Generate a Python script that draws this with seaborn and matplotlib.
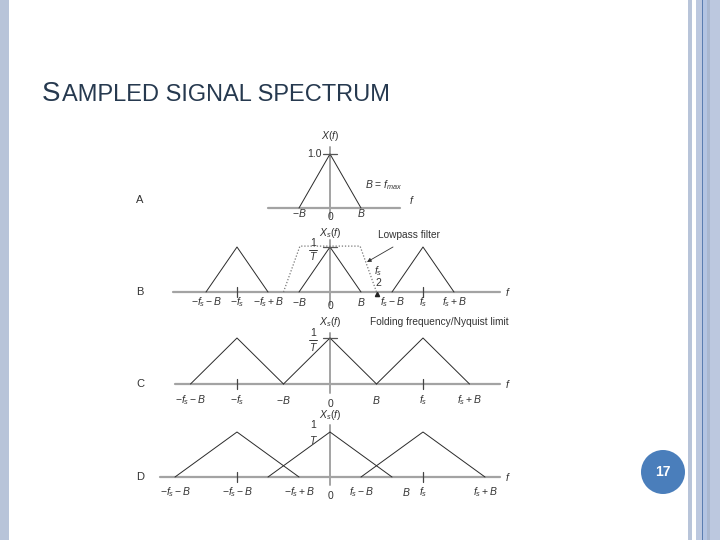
import numpy as np
import pandas as pd
import matplotlib
matplotlib.use("Agg")
import matplotlib.pyplot as plt
import seaborn as sns
from matplotlib.patches import Rectangle, Ellipse

# ---------------- data ----------------
FS = 3.0                                   # sampling frequency (units)
centers = [-FS, 0.0, FS]                   # spectral replicas at -fs, 0, fs
panel_names = ["A", "B", "C", "D"]
bandwidths = [1.0, 1.0, 1.5, 2.0]          # B for each panel
filter_x = [-1.5, -0.97, 0.97, 1.5]        # lowpass filter (panel B)
filter_y = [0.0, 1.02, 1.02, 0.0]

ticks_A = [-1.0, 0.0, 1.0]
labels_A = ["$-B$", "0", "$B$"]
ticks_B = [-4, -3, -2, -1, 0, 1, 2, 3, 4]
labels_B = ["$-f_s - B$", "$-f_s$", "$-f_s + B$", "$-B$", "0", "$B$",
            "$f_s - B$", "$f_s$", "$f_s + B$"]
ticks_C = [-4.5, -3, -1.5, 0, 1.5, 3, 4.5]
labels_C = ["$-f_s - B$", "$-f_s$", "$-B$", "0", "$B$", "$f_s$", "$f_s + B$"]
ticks_D = [-5, -3, -1, 0, 1, 2.45, 3, 5]
labels_D = ["$-f_s - B$", "$-f_s - B$", "$-f_s + B$", "0", "$f_s - B$",
            "$B$", "$f_s$", "$f_s + B$"]

# ---------------- style ----------------
sns.set_theme(style="white")
plt.rcParams["font.family"] = ["Liberation Sans", "DejaVu Sans"]
plt.rcParams["mathtext.fontset"] = "custom"
plt.rcParams["mathtext.rm"] = "Liberation Sans"
plt.rcParams["mathtext.it"] = "Liberation Sans:italic"
plt.rcParams["mathtext.bf"] = "Liberation Sans:bold"

W, H = 720, 540
fig = plt.figure(figsize=(7.2, 5.4), dpi=100)
fig.patch.set_facecolor("white")

TXT = "#333333"
AXC = "#a3a3a3"
LINE = "#2a2a2a"

# slide borders
def frect(x0, x1, color):
    fig.add_artist(Rectangle((x0 / W, 0), (x1 - x0) / W, 1, transform=fig.transFigure,
                             facecolor=color, edgecolor="none", zorder=0))

frect(0, 9, "#b8c4d9")
frect(688, 692, "#b8c4d9")
frect(696, 720, "#bcc8df")
frect(703, 707, "#b3c4e2")
frect(707, 710, "#a9b7cf")
frect(702, 703.3, "#5a7db0")

# title (small caps)
fig.text(42 / W, 1 - 101 / H, "S", fontsize=20, color="#26394f",
         va="baseline", ha="left")
fig.text(61.5 / W, 1 - 101 / H, "AMPLED SIGNAL SPECTRUM", fontsize=17,
         color="#26394f", va="baseline", ha="left")

# page number
fig.add_artist(Ellipse((663 / W, 1 - 472 / H), 44 / W, 44 / H, transform=fig.transFigure,
                       facecolor="#4a7ebb", edgecolor="none"))
fig.text(663 / W, 1 - 472 / H, "17", color="white", fontsize=10, fontweight="bold",
         ha="center", va="center")

# ---------------- panels ----------------
PX = 31.0          # pixels per frequency unit
X0 = 330.0         # pixel x of f = 0
baselines = [208, 292, 384, 477]
scales = [54, 45, 46, 45]
axis_x = [(-2.0, 2.26), (-5.06, 5.48), (-5.0, 5.48), (-5.48, 5.48)]
axis_y = [(-0.17, 1.13), (-0.29, 1.16), (-0.2, 1.1), (-0.18, 1.15)]
label_off = [5, 10, 16, 15]
all_ticks = [ticks_A, ticks_B, ticks_C, ticks_D]
all_labels = [labels_A, labels_B, labels_C, labels_D]
ylabels = ["$X(f)$", "$X_s(f)$", "$X_s(f)$", "$X_s(f)$"]
FSZ = 7.5

LO, HI = 1.2, 1.8
axes = []
for i in range(4):
    yb, s = baselines[i], scales[i]
    ax = fig.add_axes([130 / W, 1 - (yb + LO * s) / H, 400 / W, (LO + HI) * s / H])
    ax.set_xlim(-200 / PX, 200 / PX)
    ax.set_ylim(-LO, HI)
    ax.axis("off")
    axes.append(ax)

    B = bandwidths[i]
    cs = [0.0] if i == 0 else centers
    rows = []
    for k, c in enumerate(cs):
        for xv, yv in zip([c - B, c, c + B], [0.0, 1.0, 0.0]):
            rows.append({"f": xv, "X": yv, "rep": k})
    df = pd.DataFrame(rows)
    sns.lineplot(data=df, x="f", y="X", units="rep", estimator=None, sort=False,
                 color=LINE, lw=0.7, ax=ax, legend=False)
    for l in ax.lines:
        l.set_clip_on(False)

    # axes lines
    ax.plot(axis_x[i], [0, 0], color=AXC, lw=1.6, zorder=1, clip_on=False)
    ax.plot([0, 0], axis_y[i], color=AXC, lw=1.4, zorder=1, clip_on=False)

    # ticks at +-fs
    if i > 0:
        for c in [-FS, FS]:
            ax.plot([c, c], [-5 / s, 5 / s], color="#444444", lw=0.9, clip_on=False)
    # peak tick
    if i < 3:
        ax.plot([-7 / PX, 7 / PX], [1, 1], color="#555555", lw=0.9, clip_on=False)

    # tick labels
    for t, lab in zip(all_ticks[i], all_labels[i]):
        off = label_off[i] + (4 if lab == "0" else 0)
        ax.text(t, -off / s, lab, ha="center", va="center", fontsize=FSZ, color=TXT)

    # ylabel
    ylab_px = [136, 233, 322, 415][i]
    ax.text(0, (yb - ylab_px) / s, ylabels[i], ha="center", va="center",
            fontsize=FSZ, color=TXT)

    # f axis label, panel letter
    fx = 412 if i == 0 else 508
    ax.text((fx - X0) / PX, (8 / s) if i == 0 else 0.0, "$f$", ha="center",
            va="center", fontsize=FSZ, color=TXT)
    ax.text((140 - X0) / PX, (8 / s) if i == 0 else 0.0, panel_names[i], ha="center",
            va="center", fontsize=8, color=TXT)

# panel A extras
axA = axes[0]
axA.text(-8 / PX, 1.0, "1.0", ha="right", va="center", fontsize=FSZ, color=TXT)
axA.text((365 - X0) / PX, (208 - 185) / 54, "$B$ = $f_{max}$", ha="left",
         va="center", fontsize=FSZ, color=TXT)

# 1/T labels
for i, (y1, y2, bar) in zip([1, 2, 3], [(243, 256, True), (333, 347, True), (425, 440, False)]):
    ax = axes[i]
    yb, s = baselines[i], scales[i]
    xx = (313 - X0) / PX
    ax.text(xx, (yb - y1) / s, "1", ha="center", va="center", fontsize=FSZ, color=TXT)
    ax.text(xx, (yb - y2) / s, "$T$", ha="center", va="center", fontsize=FSZ, color=TXT)
    if bar:
        ym = (yb - (y1 + y2) / 2) / s
        ax.plot([xx - 4 / PX, xx + 4 / PX], [ym, ym], color=TXT, lw=0.7, clip_on=False)

# panel B extras
axB = axes[1]
sns.lineplot(x=filter_x, y=filter_y, sort=False, estimator=None, ax=axB,
             color="#777777", lw=0.9, linestyle=(0, (1, 1.5)))
axB.text((378 - X0) / PX, (292 - 235) / 45, "Lowpass filter", ha="left",
         va="center", fontsize=7.3, color=TXT)
axB.annotate("", xy=((367 - X0) / PX, (292 - 262) / 45),
             xytext=((393 - X0) / PX, (292 - 247) / 45),
             arrowprops=dict(arrowstyle="-|>", color="#333333", lw=0.6,
                             mutation_scale=6, shrinkA=0, shrinkB=0))
axB.text((378 - X0) / PX, (292 - 271) / 45, "$f_s$", ha="center", va="center",
         fontsize=FSZ, color=TXT)
axB.text((378 - X0) / PX, (292 - 283) / 45, "2", ha="center", va="center",
         fontsize=FSZ, color=TXT)
axB.plot([1.5], [-0.04], marker="^", color="#222222", markersize=3, clip_on=False)
axB.text((370 - X0) / PX, (292 - 322) / 45, "Folding frequency/Nyquist limit",
         ha="left", va="center", fontsize=7.3, color=TXT)

fig.savefig("out.png", dpi=100)
